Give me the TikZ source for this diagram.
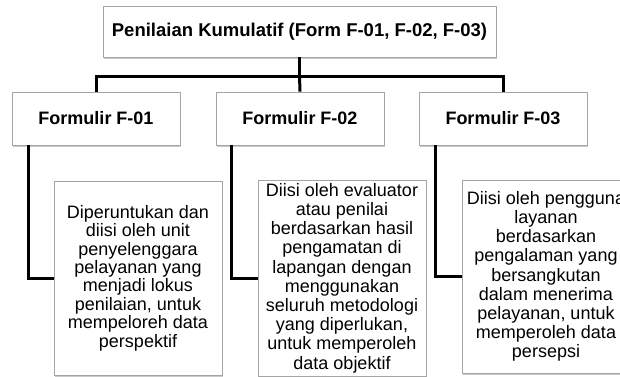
\documentclass[tikz,border=0pt]{standalone}
\usepackage{fontspec}
\setmainfont{Liberation Sans}
\usetikzlibrary{shadows,calc}
\definecolor{boxline}{RGB}{165,165,165}
\tikzset{
  boxstyle/.style={draw=boxline, line width=0.8pt, fill=white, inner sep=0pt,
    drop shadow={shadow xshift=1.2pt, shadow yshift=-1.5pt, opacity=0.35, fill=black!60}},
  headbox/.style={boxstyle, font=\fontsize{18}{20}\selectfont\bfseries},
  descbox/.style={boxstyle, align=center, font=\fontsize{18}{19.2}\selectfont, minimum width=168pt},
  conn/.style={line width=3pt, line join=miter, black}
}
\begin{document}
\begin{tikzpicture}[x=1pt,y=-1pt]
\useasboundingbox (0,0) rectangle (620,376);
\node[headbox, minimum width=393pt, minimum height=51pt, font=\fontsize{18.5}{20}\selectfont\bfseries] (top) at (299.5,31.5) {Penilaian Kumulatif (Form F-01, F-02, F-03)};
\node[headbox, minimum width=168pt, minimum height=53pt] (f1) at (96,118.5) {Formulir F-01};
\node[headbox, minimum width=168pt, minimum height=53pt] (f2) at (300,118.5) {Formulir F-02};
\node[headbox, minimum width=168pt, minimum height=53pt] (f3) at (503,118.5) {Formulir F-03};
\coordinate (mid) at (299.5,76);
\draw[conn] (top.south) -- (mid);
\draw[conn] (mid) -| (f1.north);
\draw[conn] (mid) -| (f3.north);
\draw[conn] (mid) -- (f2.north);
\node[descbox, minimum height=194pt, font=\fontsize{18}{18.4}\selectfont] (d1) at (138,278) {Diperuntukan dan\\diisi oleh unit\\penyelenggara\\pelayanan yang\\menjadi lokus\\penilaian, untuk\\mempeloreh data\\perspektif};
\node[descbox, minimum height=196pt] (d2) at (342,278) {Diisi oleh evaluator\\atau penilai\\berdasarkan hasil\\pengamatan di\\lapangan dengan\\menggunakan\\seluruh metodologi\\yang diperlukan,\\untuk memperoleh\\data objektif};
\node[descbox, minimum height=193pt] (d3) at (546,276.5) {Diisi oleh pengguna\\layanan\\berdasarkan\\pengalaman yang\\bersangkutan\\dalam menerima\\pelayanan, untuk\\memperoleh data\\persepsi};
\draw[conn] ($(f1.south west)+(17,0)$) |- (d1.west);
\draw[conn] ($(f2.south west)+(16,0)$) |- (d2.west);
\draw[conn] ($(f3.south west)+(17,0)$) |- (d3.west);
\end{tikzpicture}
\end{document}
